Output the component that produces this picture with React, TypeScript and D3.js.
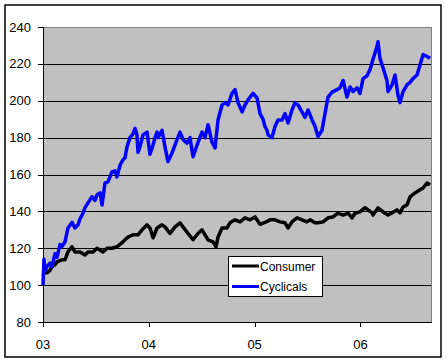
import React from "react";
import * as d3 from "d3";

const yTicks = [80, 100, 120, 140, 160, 180, 200, 220, 240];
const xTickYears = [2003, 2004, 2005, 2006];
const xTickLabels = ["03", "04", "05", "06"];
const seriesNames = ["Consumer", "Cyclicals"];
const seriesColors = ["#000000", "#0000FF"];

const cyclicalsT = [2003.0, 2003.009, 2003.019, 2003.038, 2003.066, 2003.085, 2003.113, 2003.132, 2003.161, 2003.18, 2003.208, 2003.236, 2003.274, 2003.302, 2003.331, 2003.35, 2003.378, 2003.397, 2003.425, 2003.463, 2003.491, 2003.51, 2003.539, 2003.558, 2003.586, 2003.614, 2003.652, 2003.681, 2003.699, 2003.728, 2003.756, 2003.775, 2003.794, 2003.822, 2003.851, 2003.87, 2003.888, 2003.898, 2003.917, 2003.945, 2003.983, 2004.011, 2004.04, 2004.059, 2004.078, 2004.087, 2004.125, 2004.153, 2004.181, 2004.219, 2004.248, 2004.267, 2004.295, 2004.323, 2004.361, 2004.389, 2004.418, 2004.456, 2004.503, 2004.531, 2004.56, 2004.597, 2004.626, 2004.654, 2004.692, 2004.72, 2004.749, 2004.786, 2004.815, 2004.843, 2004.881, 2004.909, 2004.938, 2004.985, 2005.023, 2005.051, 2005.079, 2005.098, 2005.117, 2005.127, 2005.164, 2005.193, 2005.221, 2005.259, 2005.287, 2005.316, 2005.353, 2005.382, 2005.41, 2005.448, 2005.476, 2005.505, 2005.543, 2005.571, 2005.599, 2005.637, 2005.665, 2005.694, 2005.732, 2005.779, 2005.807, 2005.836, 2005.873, 2005.902, 2005.93, 2005.968, 2005.996, 2006.025, 2006.062, 2006.091, 2006.119, 2006.157, 2006.166, 2006.185, 2006.214, 2006.251, 2006.261, 2006.299, 2006.327, 2006.355, 2006.374, 2006.403, 2006.44, 2006.469, 2006.497, 2006.535, 2006.563, 2006.592, 2006.629, 2006.658];
const cyclicalsV = [100, 114, 108, 110, 112, 110, 117, 115, 122, 121, 123.5, 131, 134, 131, 132.7, 136, 139, 142, 144.6, 148, 146, 149, 150, 143.5, 155.5, 156, 161.4, 162, 158.7, 165, 168, 169, 175, 180, 182, 185, 181.5, 172, 175, 181.5, 183, 171, 176, 180, 183, 180, 184, 175, 167, 171.7, 176, 179, 183, 179, 177, 180, 169.6, 176, 183, 180, 187, 177.6, 174.4, 189.6, 197.7, 199, 197.7, 204, 206, 199, 194, 197.7, 200.5, 204, 201.5, 193, 190, 186, 184, 181.5, 180, 186, 189.6, 189.6, 193, 188, 195, 199, 197.7, 194, 191, 195, 189.6, 186, 180.6, 184, 193, 202, 204.7, 206, 207, 211, 202, 207.5, 205, 207, 204, 212, 213.5, 217, 222.5, 229.5, 232, 223, 217.8, 211, 205, 208.6, 214, 203, 199, 205, 208.6, 210, 212, 214, 219.4, 225, 224, 223];

const consumerT = [2003.0, 2003.019, 2003.038, 2003.066, 2003.085, 2003.113, 2003.132, 2003.18, 2003.208, 2003.236, 2003.274, 2003.302, 2003.35, 2003.397, 2003.425, 2003.473, 2003.51, 2003.539, 2003.567, 2003.605, 2003.652, 2003.699, 2003.747, 2003.775, 2003.803, 2003.851, 2003.898, 2003.936, 2003.983, 2004.011, 2004.04, 2004.078, 2004.125, 2004.153, 2004.2, 2004.248, 2004.295, 2004.323, 2004.371, 2004.418, 2004.465, 2004.503, 2004.531, 2004.56, 2004.607, 2004.635, 2004.654, 2004.692, 2004.739, 2004.767, 2004.815, 2004.862, 2004.909, 2004.957, 2005.004, 2005.051, 2005.098, 2005.146, 2005.193, 2005.24, 2005.287, 2005.316, 2005.353, 2005.401, 2005.448, 2005.495, 2005.524, 2005.571, 2005.599, 2005.647, 2005.694, 2005.741, 2005.788, 2005.836, 2005.883, 2005.921, 2005.949, 2005.996, 2006.043, 2006.072, 2006.11, 2006.119, 2006.166, 2006.214, 2006.261, 2006.299, 2006.346, 2006.374, 2006.403, 2006.44, 2006.469, 2006.516, 2006.563, 2006.592, 2006.629, 2006.658];
const consumerV = [105, 108, 106.7, 108, 110, 111, 112.6, 113.7, 113.7, 118, 120.8, 118, 118, 116.4, 118, 118, 120, 119, 118, 120, 120, 120.8, 123, 124.6, 126, 127.3, 127.3, 130, 132.7, 131, 125.7, 131, 132.7, 131.6, 128, 131.6, 133.8, 131.6, 128, 124.6, 128, 130, 127.3, 124.6, 123.5, 120.8, 126, 131, 131, 133.8, 135.4, 134.3, 136.5, 135.4, 137, 133, 134, 135.4, 135.4, 134.3, 133.8, 131, 134.3, 136.5, 135.4, 134.3, 135.4, 133.8, 133.8, 134.3, 136.5, 137, 139, 138, 139, 136.5, 139, 139.7, 142, 140.8, 139.2, 138, 141.9, 139.7, 138, 139.2, 140.8, 139.2, 142.4, 143.5, 147.9, 150, 151.7, 152.7, 155.4, 154.4];

export default function App() {
  const W = 447, H = 363;
  const left = 43, right = 431, top = 27, bottom = 322;
  const x = d3.scaleLinear().domain([2003, 2006.667]).range([left, right]);
  const y = d3.scaleLinear().domain([80, 240]).range([bottom, top]);
  const line = d3.line<[number, number]>().x((d) => x(d[0])).y((d) => y(d[1]));
  const cons: [number, number][] = consumerT.map((t, i) => [t, consumerV[i]]);
  const cyc: [number, number][] = cyclicalsT.map((t, i) => [t, cyclicalsV[i]]);
  const font = "Arial, 'Liberation Sans', sans-serif";
  return (
    <svg width={W} height={H} style={{ position: "absolute", left: 0, top: 0 }}>
      <rect x={0} y={0} width={W} height={H} fill="#fff" />
      <rect x={5} y={5} width={436} height={352} fill="#fff" stroke="#000" strokeWidth={1.5} />
      <rect x={left} y={top} width={right - left} height={bottom - top} fill="#C0C0C0" />
      {yTicks.filter((v) => v > 80 && v < 240).map((v) => (
        <line key={v} x1={left} x2={right} y1={Math.round(y(v)) + 0.5} y2={Math.round(y(v)) + 0.5} stroke="#000" strokeWidth={1} />
      ))}
      <line x1={left} x2={right + 0.5} y1={top + 0.5} y2={top + 0.5} stroke="#808080" />
      <line x1={right + 0.5} x2={right + 0.5} y1={top} y2={bottom} stroke="#808080" />
      <line x1={left + 0.5} x2={left + 0.5} y1={top} y2={bottom + 0.5} stroke="#000" />
      <line x1={left} x2={right + 1} y1={bottom + 0.5} y2={bottom + 0.5} stroke="#000" />
      {yTicks.map((v) => (
        <g key={v}>
          <line x1={left - 5} x2={left} y1={Math.round(y(v)) + 0.5} y2={Math.round(y(v)) + 0.5} stroke="#000" />
          <text x={31} y={y(v) + 4.5} textAnchor="end" fontFamily={font} fontSize={13} fill="#000">{v}</text>
        </g>
      ))}
      {xTickYears.map((t, i) => (
        <g key={t}>
          <line x1={Math.round(x(t)) + 0.5} x2={Math.round(x(t)) + 0.5} y1={bottom} y2={bottom + 5} stroke="#000" />
          <text x={x(t)} y={349} textAnchor="middle" fontFamily={font} fontSize={13} fill="#000">{xTickLabels[i]}</text>
        </g>
      ))}
      <path d={line(cons) || ""} fill="none" stroke={seriesColors[0]} strokeWidth={3.5} strokeLinejoin="round" />
      <path d={line(cyc) || ""} fill="none" stroke={seriesColors[1]} strokeWidth={3.5} strokeLinejoin="round" />
      <rect x={228.5} y={256.5} width={94} height={40} fill="#fff" stroke="#000" />
      {seriesNames.map((n, i) => (
        <g key={n}>
          <line x1={232} x2={259} y1={266 + i * 20.5} y2={266 + i * 20.5} stroke={seriesColors[i]} strokeWidth={3} />
          <text x={260} y={270.5 + i * 20.5} fontFamily={font} fontSize={12} fill="#000">{n}</text>
        </g>
      ))}
    </svg>
  );
}
